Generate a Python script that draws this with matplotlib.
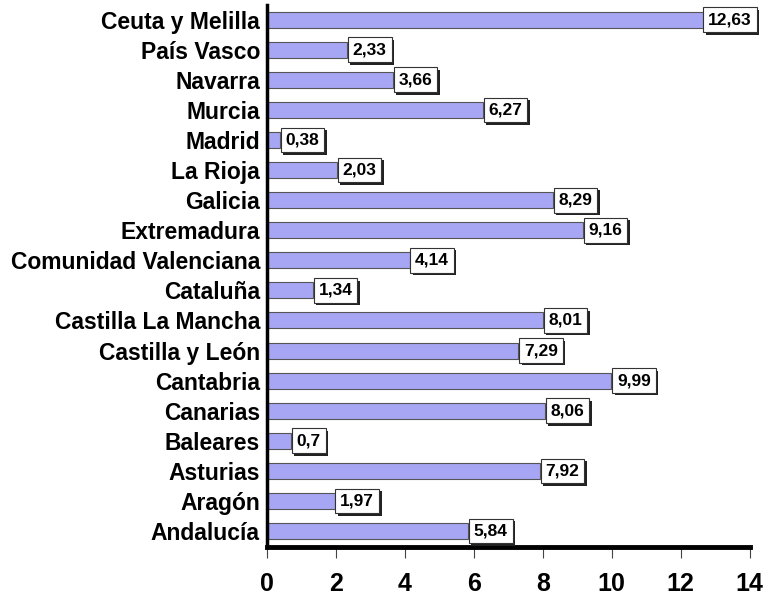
import matplotlib
matplotlib.use('Agg')
import matplotlib.pyplot as plt
import matplotlib.patheffects as pe
import numpy as np

plt.rcParams['font.family'] = ['Liberation Sans', 'DejaVu Sans']

# regiones (de abajo hacia arriba) y valores
regiones = ['Andalucía', 'Aragón', 'Asturias', 'Baleares', 'Canarias', 'Cantabria',
            'Castilla y León', 'Castilla La Mancha', 'Cataluña', 'Comunidad Valenciana',
            'Extremadura', 'Galicia', 'La Rioja', 'Madrid', 'Murcia', 'Navarra',
            'País Vasco', 'Ceuta y Melilla']
valores = [5.84, 1.97, 7.92, 0.7, 8.06, 9.99, 7.29, 8.01, 1.34, 4.14,
           9.16, 8.29, 2.03, 0.38, 6.27, 3.66, 2.33, 12.63]
etiquetas = ['5,84', '1,97', '7,92', '0,7', '8,06', '9,99', '7,29', '8,01', '1,34', '4,14',
             '9,16', '8,29', '2,03', '0,38', '6,27', '3,66', '2,33', '12,63']
xticks = [0, 2, 4, 6, 8, 10, 12, 14]

fig = plt.figure(figsize=(7.69, 5.98), dpi=100)
ax = fig.add_axes([0.347, 0.0853, 0.628, 0.907])

y = np.arange(len(regiones))
ax.barh(y, valores, height=0.53, color='#A6A6F5', edgecolor='#555555', linewidth=0.8, zorder=2)

fs_val = 12.5
pad = 0.28
for yi, v, txt in zip(y, valores, etiquetas):
    ann = ax.annotate(txt, (v, yi), xytext=(pad * fs_val + 0.5, 0), textcoords='offset points',
                      ha='left', va='center', fontsize=fs_val, fontweight='bold', color='black',
                      bbox=dict(boxstyle=f'square,pad={pad}', facecolor='white',
                                edgecolor='#333333', linewidth=0.8),
                      zorder=4)
    # sombra del recuadro
    ann.get_bbox_patch().set_path_effects([
        pe.SimplePatchShadow(offset=(1.8, -1.8), shadow_rgbFace='#222222', alpha=1.0),
        pe.Normal()])

ax.set_yticks(y)
ax.set_yticklabels(regiones, fontsize=16.5, fontweight='bold')
ax.set_xticks(xticks)
ax.set_xticklabels([str(t) for t in xticks], fontsize=18, fontweight='bold')
ax.set_xlim(0, 14)
ax.set_ylim(-0.53, 17.5)

ax.spines['top'].set_visible(False)
ax.spines['right'].set_visible(False)
ax.spines['left'].set_linewidth(2.5)
ax.spines['bottom'].set_linewidth(3.5)
ax.tick_params(axis='y', length=0, pad=5)
ax.tick_params(axis='x', direction='out', length=8, width=0.8, color='#444444', pad=10)

fig.savefig('out.png', dpi=100)
